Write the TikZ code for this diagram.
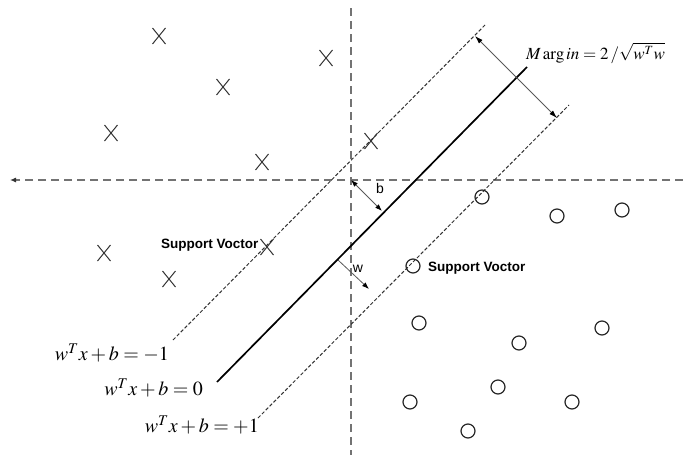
\documentclass[tikz,border=0pt]{standalone}
\usepackage{mathptmx}
\usepackage[no-math]{fontspec}
\setsansfont{Liberation Sans}
\usetikzlibrary{arrows.meta,shapes.misc}
\tikzset{
  axis/.style={draw=black!55, line width=1.1pt, dash pattern=on 8pt off 5pt},
  marginline/.style={draw=black!80, line width=1pt, dash pattern=on 3.5pt off 2pt},
  hyper/.style={draw=black, line width=1.7pt},
  dimarrow/.style={draw=black!65, line width=0.8pt},
  xpt/.style={cross out, draw=black!80, line width=1pt, minimum width=12pt, minimum height=15pt, inner sep=0pt},
  opt/.style={circle, draw=black!85, line width=1.2pt, minimum size=14pt, inner sep=0pt},
  svlabel/.style={font=\sffamily\bfseries\fontsize{13.5}{15}\selectfont, inner sep=0pt},
  eqlabel/.style={font=\fontsize{20}{24}\selectfont, inner sep=0pt},
  lbl/.style={font=\sffamily\fontsize{14}{16}\selectfont, inner sep=0pt}
}
\begin{document}
\begin{tikzpicture}[x=1pt,y=-1pt]
\useasboundingbox (0,0) rectangle (683,455);
% axes
\coordinate (hR) at (683,180);
\coordinate (hL) at (10,180);
\coordinate (vT) at (351,8);
\coordinate (vB) at (351,455);
\coordinate (O) at (351,180);
\draw[axis, -{Latex[length=6pt,width=5pt,black!80]}] (hR) -- (hL);
\draw[axis] (vT) -- (vB);
% hyperplanes
\coordinate (m1a) at (173,340);
\coordinate (m1b) at (486,24);
\coordinate (h0a) at (217,382);
\coordinate (h0b) at (527,67);
\coordinate (p1a) at (258,418);
\coordinate (p1b) at (569,105);
\draw[marginline] (m1a) -- (m1b);
\draw[hyper] (h0a) -- (h0b);
\draw[marginline] (p1a) -- (p1b);
% margin arrow
\coordinate (ma) at (475,36);
\coordinate (mb) at (557,118);
\draw[dimarrow, {Latex[length=8pt,width=5pt,black]}-{Latex[length=8pt,width=5pt,black]}] (ma) -- (mb);
\node[font=\fontsize{17}{20}\selectfont, anchor=west, inner sep=0pt] (mlabel) at (526,53) {$M\,\mathrm{arg}\,in = 2\,/\sqrt{w^{T}w}$};
% b arrow
\coordinate (bb) at (382,211);
\draw[dimarrow, {Latex[length=7pt,width=5pt,black]}-{Latex[length=7pt,width=5pt,black]}] (O) -- (bb);
\node[lbl] (blabel) at (380,188) {b};
% w arrow
\coordinate (wa) at (338,260);
\coordinate (wb) at (369,289);
\draw[dimarrow, -{Latex[length=7pt,width=5pt,black]}] (wa) -- (wb);
\node[lbl] (wlabel) at (358,269) {w};
% X points
\node[xpt] (x1) at (159,36) {};
\node[xpt] (x2) at (326,58) {};
\node[xpt] (x3) at (223,87) {};
\node[xpt] (x4) at (111,133) {};
\node[xpt] (x5) at (262,162) {};
\node[xpt] (x6) at (371,141) {};
\node[xpt] (x7) at (104,253) {};
\node[xpt] (x8) at (267,247) {};
\node[xpt] (x9) at (169,279) {};
% O points
\node[opt] (o1) at (482,197) {};
\node[opt] (o2) at (557,216) {};
\node[opt] (o3) at (622,210) {};
\node[opt] (o4) at (413,266) {};
\node[opt] (o5) at (419,323) {};
\node[opt] (o6) at (519,343) {};
\node[opt] (o7) at (602,328) {};
\node[opt] (o8) at (498,387) {};
\node[opt] (o9) at (410,402) {};
\node[opt] (o10) at (572,402) {};
\node[opt] (o11) at (468,431) {};
% support vector labels
\node[svlabel, anchor=west] (sv1) at (161,245) {Support Voctor};
\node[svlabel, anchor=west] (sv2) at (428,268) {Support Voctor};
% equations
\node[eqlabel, anchor=east] (eq1) at (169,353) {$w^{T}x+b=-1$};
\node[eqlabel, anchor=east] (eq2) at (203,388) {$w^{T}x+b=0$};
\node[eqlabel, anchor=east] (eq3) at (259,425) {$w^{T}x+b=+1$};
\end{tikzpicture}
\end{document}
